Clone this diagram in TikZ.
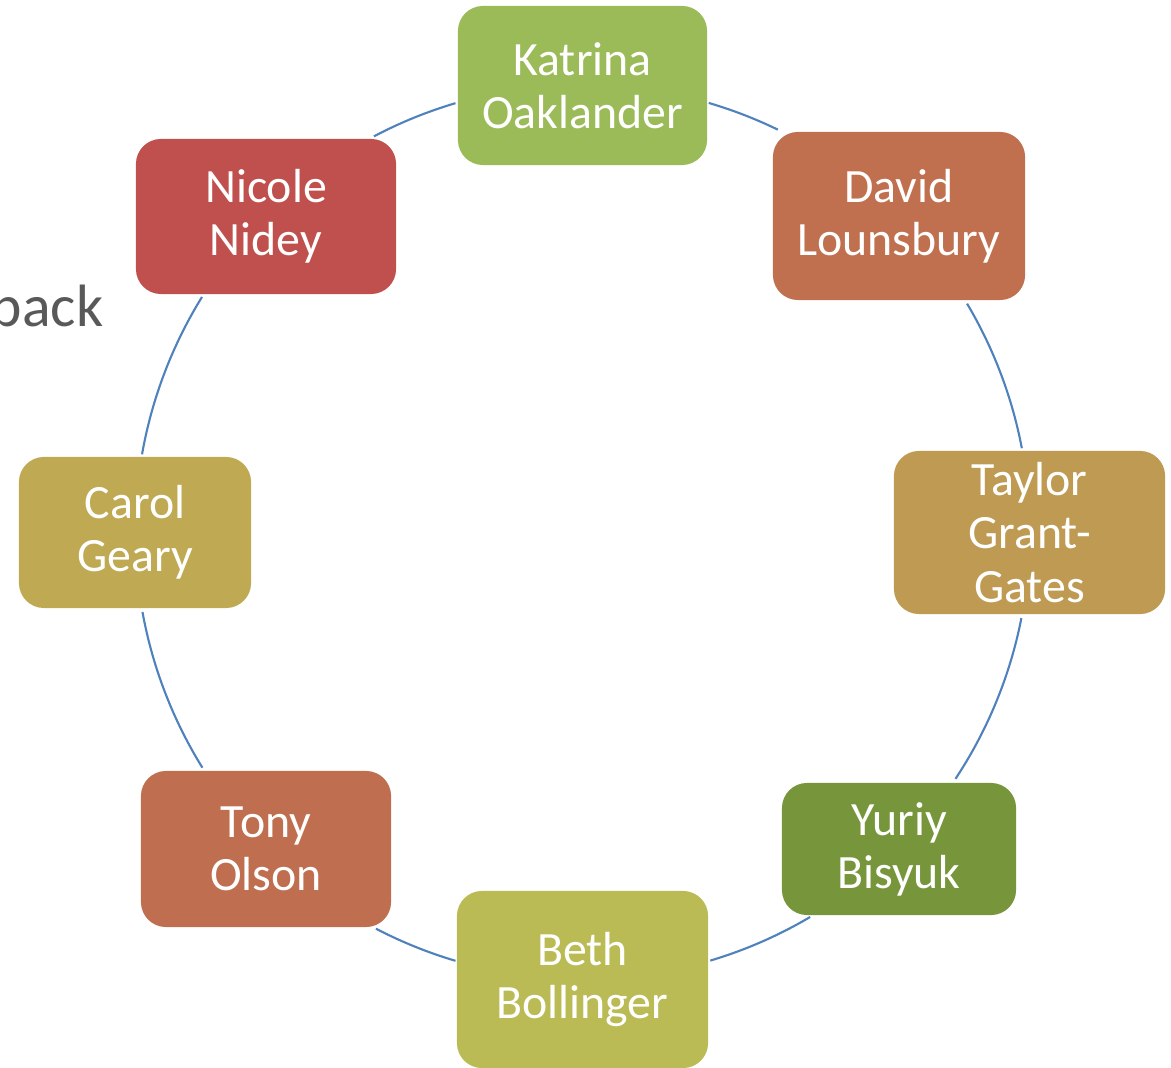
\documentclass[tikz,border=0pt]{standalone}
\usepackage{fontspec}
\setmainfont{Carlito}
\begin{document}
\begin{tikzpicture}[x=0.01cm,y=0.01cm,
  member/.style={rounded corners=0.25cm, inner sep=0pt, align=center,
    text=white, font=\fontsize{13.6}{15.1}\selectfont},
  link/.style={draw=linkblue, line width=0.6pt}]
\definecolor{linkblue}{HTML}{4F81BD}
\definecolor{cKatrina}{HTML}{9BBB59}
\definecolor{cDavid}{HTML}{C0704F}
\definecolor{cTaylor}{HTML}{BE9A52}
\definecolor{cYuriy}{HTML}{77963B}
\definecolor{cBeth}{HTML}{BBBB55}
\definecolor{cTony}{HTML}{BF6F4F}
\definecolor{cCarol}{HTML}{BFA952}
\definecolor{cNicole}{HTML}{C0504D}
\definecolor{titlegray}{HTML}{595959}

\useasboundingbox (0,0) rectangle (1171,1067);
\clip (0,0) rectangle (1171,1067);

% centre of the ring
\coordinate (O) at (582.5,535);

% connecting arcs along the ring
\def\R{4.47cm}
\draw[link] (O) ++(73.6:\R) arc[start angle=73.6, end angle=64.1, radius=\R];
\draw[link] (O) ++(30.7:\R) arc[start angle=30.7, end angle=10.8, radius=\R];
\draw[link] (O) ++(-11.1:\R) arc[start angle=-11.1, end angle=-33.5, radius=\R];
\draw[link] (O) ++(-59.4:\R) arc[start angle=-59.4, end angle=-73.4, radius=\R];
\draw[link] (O) ++(253.5:\R) arc[start angle=253.5, end angle=242.5, radius=\R];
\draw[link] (O) ++(211.8:\R) arc[start angle=211.8, end angle=190.3, radius=\R];
\draw[link] (O) ++(170.0:\R) arc[start angle=170.0, end angle=148.3, radius=\R];
\draw[link] (O) ++(117.8:\R) arc[start angle=117.8, end angle=106.5, radius=\R];

% the members
\node[member, fill=cKatrina, minimum width=2.49cm, minimum height=1.59cm] (katrina) at (582.5,981.5) {Katrina\\Oaklander};
\node[member, fill=cDavid, minimum width=2.52cm, minimum height=1.68cm] (david) at (899,851) {David\\Lounsbury};
\node[member, fill=cTaylor, minimum width=2.71cm, minimum height=1.63cm] (taylor) at (1029.5,534.5) {Taylor\\Grant-\\Gates};
\node[member, fill=cYuriy, minimum width=2.34cm, minimum height=1.32cm] (yuriy) at (899,218) {Yuriy\\Bisyuk};
\node[member, fill=cBeth, minimum width=2.51cm, minimum height=1.77cm] (beth) at (582.5,87.5) {Beth\\Bollinger};
\node[member, fill=cTony, minimum width=2.50cm, minimum height=1.56cm] (tony) at (266,218) {Tony\\Olson};
\node[member, fill=cCarol, minimum width=2.32cm, minimum height=1.51cm] (carol) at (135,534.5) {Carol\\Geary};
\node[member, fill=cNicole, minimum width=2.60cm, minimum height=1.55cm] (nicole) at (266,850.5) {Nicole\\Nidey};

% heading fragment at the left edge
\node[anchor=base east, inner sep=0pt, text=titlegray, font=\fontsize{17}{20}\selectfont] (heading) at (104,740) {back};
\end{tikzpicture}
\end{document}
